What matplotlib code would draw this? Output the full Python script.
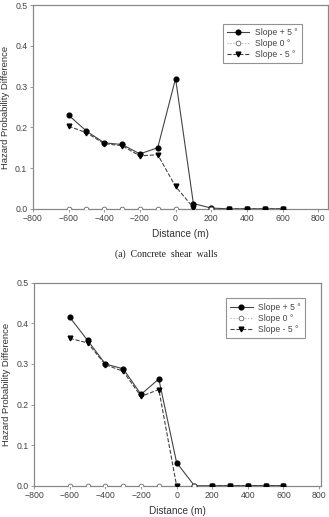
import numpy as np
import matplotlib
matplotlib.use("Agg")
import matplotlib.pyplot as plt

# -----------------------------
# Data
# -----------------------------
distance = [-600, -500, -400, -300, -200, -100, 0, 100, 200, 300, 400, 500, 600]
nan = np.nan

# (a) Concrete shear walls
a_plus5 = [0.230, 0.191, 0.162, 0.158, 0.135, 0.150, 0.320, 0.013, 0.002, 0, 0, 0, 0]
a_zero = [0, 0, 0, 0, 0, 0, 0, 0, 0, nan, nan, nan, nan]
a_minus5 = [0.203, 0.187, 0.160, 0.155, 0.130, 0.133, 0.055, 0.003, nan, 0, 0, 0, 0]

# (b) second panel
b_plus5 = [0.415, 0.358, 0.300, 0.288, 0.225, 0.263, 0.057, 0, 0, 0, 0, 0, 0]
b_zero = [0, 0, 0, 0, 0, 0, 0, 0, nan, nan, nan, nan, nan]
b_minus5 = [0.363, 0.352, 0.298, 0.282, 0.220, 0.237, 0.0, nan, 0, 0, 0, 0, 0]

xticks = [-800, -600, -400, -200, 0, 200, 400, 600, 800]
yticks = [0.0, 0.1, 0.2, 0.3, 0.4, 0.5]

plt.rcParams['font.family'] = ['Liberation Sans', 'DejaVu Sans']

fig = plt.figure(figsize=(3.29, 5.17), dpi=100)
ax1 = fig.add_axes([0.100, 0.596, 0.897, 0.394])
ax2 = fig.add_axes([0.104, 0.0605, 0.871, 0.3925])


def draw_panel(ax, plus5, zero, minus5, xmax, leg_anchor):
    ax.plot(distance, plus5, '-', color='#444444', lw=0.8, marker='o',
            ms=3.4, mfc='black', mec='black', label='Slope + 5 \u00b0', zorder=3)
    ax.plot(distance, zero, ':', color='#aaaaaa', lw=0.8, marker='o',
            ms=3.4, mfc='white', mec='#666666', mew=0.6, label='Slope 0 \u00b0', zorder=4)
    ax.plot(distance, minus5, '--', color='#444444', lw=0.8, marker='v',
            ms=3.4, mfc='black', mec='black', label='Slope - 5 \u00b0', zorder=5)

    ax.set_xlim(-800, xmax)
    ax.set_ylim(0, 0.5)
    ax.set_xticks(xticks)
    ax.set_yticks(yticks)
    ax.set_yticklabels([f"{v:.1f}" for v in yticks])
    for s in ax.spines.values():
        s.set_color('#888888')
        s.set_linewidth(0.9)
    ax.tick_params(direction='out', length=2.5, width=0.6, color='#888888',
                   labelsize=6.3, labelcolor='#444444', pad=1.5)
    ax.set_xlabel("Distance (m)", fontsize=7.2, color='#333333', labelpad=4)
    ax.set_ylabel("Hazard Probability Difference", fontsize=6.8,
                  color='#333333', labelpad=4)
    leg = ax.legend(loc='upper right', bbox_to_anchor=leg_anchor,
                    fontsize=6.2, frameon=True, fancybox=False,
                    handlelength=2.6, borderpad=0.5, labelspacing=0.25,
                    handletextpad=0.6)
    leg.get_frame().set_edgecolor('#777777')
    leg.get_frame().set_linewidth(0.8)
    for t in leg.get_texts():
        t.set_color('#444444')


draw_panel(ax1, a_plus5, a_zero, a_minus5, 855, (0.925, 0.931))
draw_panel(ax2, b_plus5, b_zero, b_minus5, 810, (0.959, 0.944))

fig.text(0.505, 0.509, "(a)  Concrete  shear  walls", ha='center', va='center',
         fontsize=7, family=['Liberation Serif', 'DejaVu Serif'], color='#222222')

fig.savefig("out.png", dpi=100)
